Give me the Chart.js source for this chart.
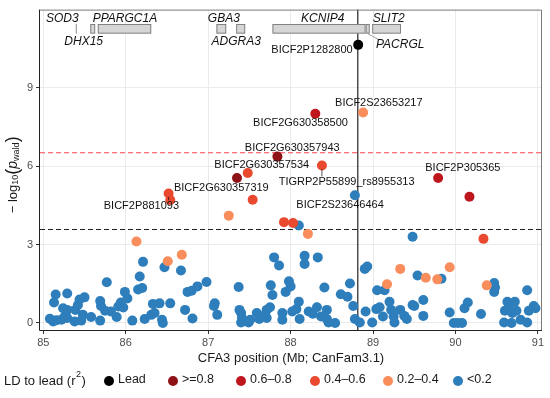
<!DOCTYPE html>
<html>
<head>
<meta charset="utf-8">
<script src="https://cdn.jsdelivr.net/npm/chart.js@4/dist/chart.umd.min.js"></script>
<style>
  html, body { margin: 0; padding: 0; background: #fff; }
  #wrap { width: 550px; height: 398px; position: relative; }
</style>
</head>
<body>
<div id="wrap"><canvas id="grafico"></canvas></div>
<script>
// axis ranges and ticks
const xTicks = [85, 86, 87, 88, 89, 90, 91];
const yTicks = [0, 3, 6, 9];
const xMin = 84.96, xMax = 91.05;
const yMin = -0.27, yMax = 12.0;

// thresholds
const sigLine = 6.52;
const suggLine = 3.58;
const leadPos = 88.815;

// lead SNP
const leadX = [88.82];
const leadY = [10.65];

// r2 >= 0.8
const ld8X = [87.84, 87.35];
const ld8Y = [6.37, 5.55];

// r2 0.6-0.8
const ld6X = [88.30, 89.79, 90.17];
const ld6Y = [8.01, 5.55, 4.83];

// r2 0.4-0.6
const ld4X = [87.48, 88.38, 87.54, 86.52, 86.54, 87.92, 88.03, 90.34];
const ld4Y = [5.74, 6.03, 4.72, 4.96, 4.71, 3.86, 3.83, 3.22];

// r2 0.2-0.4
const ld2X = [88.88, 87.25, 88.21, 86.13, 86.51, 86.68, 89.17, 89.33, 89.64, 89.78, 89.93, 90.38];
const ld2Y = [8.06, 4.11, 3.41, 3.12, 2.36, 2.61, 1.48, 2.07, 1.73, 1.67, 2.13, 1.44];

// r2 < 0.2
const ld0X = [
  88.78, 88.10, 89.48,
  85.08, 85.12, 85.16, 85.22, 85.26, 85.29, 85.15, 85.13, 85.29, 85.24, 85.29, 85.38, 85.39, 85.42,
  85.44, 85.50, 85.48, 85.46, 85.58, 85.69, 85.69, 85.70, 85.77, 85.75, 85.82, 85.89, 85.91, 85.94,
  85.97, 85.99, 86.02, 86.08, 86.15, 86.17, 86.20, 86.21, 86.23, 86.33, 86.31, 86.35, 86.41, 86.44,
  86.45, 86.47, 86.54, 86.67, 86.72, 86.81, 86.75, 86.80, 86.87, 86.98,
  87.08, 87.07, 87.11, 87.37, 87.38, 87.40, 87.40, 87.49, 87.59, 87.69, 87.71, 87.76, 87.78, 87.80,
  87.86, 87.41, 87.51, 87.62, 87.75, 87.71,
  87.90, 87.90, 87.94, 87.98, 88.00, 88.02, 88.07, 88.10, 88.11, 88.17, 88.17, 88.22, 88.27, 88.32,
  88.33, 88.37, 88.41, 88.44, 88.44, 88.46, 88.54, 88.61, 88.69, 88.72, 88.76, 88.78, 88.84,
  88.90, 88.93, 89.05, 89.14, 88.91, 88.99, 89.04, 89.08, 89.12, 89.20, 89.22, 89.25, 89.26, 89.33,
  89.38, 89.41, 89.48, 89.50, 89.54, 89.61, 89.61, 89.83, 89.93, 89.98, 90.03, 90.08, 90.11, 90.15,
  90.31, 90.47, 90.48, 90.47, 90.63, 90.60, 90.65, 90.72, 90.69, 90.74, 90.59, 90.68, 90.79, 90.87,
  90.89, 90.95, 90.97, 90.87
];
const ld0Y = [
  4.89, 3.73, 3.30,
  0.16, 0.06, 0.10, 0.12, 0.25, 0.19, 1.09, 0.78, 1.13, 0.56, 0.50, 0.06, 0.50, 0.69,
  0.90, 0.98, 0.31, 0.09, 0.23, 0.09, 0.84, 0.65, 1.56, 0.47, 0.44, 0.23, 0.63, 0.78,
  0.59, 1.19, 0.94, 0.09, 1.28, 1.78, 1.34, 2.34, 0.15, 0.73, 0.31, 0.38, 0.75, 0.12,
  0.00, 2.13, 0.75, 2.01, 0.50, 0.17, 1.19, 1.23, 1.40, 1.57,
  0.75, 0.65, 0.31, 1.38, 0.50, 0.38, 0.02, 0.02, 0.38, 0.31, 0.50, 1.44, 1.07, 2.51,
  2.20, 0.19, 0.12, 0.15, 0.60, 0.19,
  0.38, 0.12, 1.19, 1.60, 1.40, 0.44, 0.53, 0.81, 0.15, 2.57, 2.26, 0.44, 0.35, 0.60,
  2.51, 0.25, 1.36, 0.50, 0.15, 0.02, 0.00, 1.10, 1.00, 1.51, 0.65, 0.15, 0.02,
  2.07, 2.16, 1.25, 1.25, 0.44, 0.02, 0.53, 0.60, 0.25, 0.81, 0.50, 0.25, 0.02, 0.50,
  0.27, 0.15, 0.69, 0.65, 1.82, 0.88, 0.27, 1.69, 0.40, 0.00, 0.00, 0.00, 0.56, 0.78,
  0.34, 1.53, 1.36, 1.19, 0.81, 0.47, 0.56, 0.81, 0.38, 0.47, 0.02, 0.00, 0.12, 1.25,
  0.47, 0.65, 0.56, 0.02
];

// labelled SNPs: marker position and label centre
const snpNames = ["BICF2P1282800", "BICF2S23653217", "BICF2G630358500", "BICF2G630357943", "BICF2G630357534",
  "TIGRP2P55899_rs8955313", "BICF2G630357319", "BICF2P881093", "BICF2P305365", "BICF2S23646464"];
const snpX = [88.82, 88.88, 88.30, 87.84, 87.48, 88.38, 87.35, 86.52, 89.79, 88.78];
const snpY = [10.65, 8.06, 8.01, 6.37, 5.74, 6.03, 5.55, 4.96, 5.55, 4.89];
const snpLabelX = [88.26, 89.07, 88.12, 88.02, 87.65, 88.68, 87.16, 86.19, 90.09, 88.60];
const snpLabelY = [10.46, 8.44, 7.66, 6.72, 6.05, 5.40, 5.17, 4.49, 5.92, 4.52];

// gene track
const geneNames = ["SOD3", "DHX15", "PPARGC1A", "GBA3", "ADGRA3", "KCNIP4", "PACRGL", "SLIT2"];
const geneStart = [85.40, 85.57, 85.66, 87.10, 87.34, 87.78, 88.91, 88.99];
const geneEnd = [85.40, 85.63, 86.31, 87.22, 87.45, 88.91, 88.96, 89.34];
const geneLabelX = [85.23, 85.49, 85.99, 87.19, 87.34, 88.39, 89.33, 89.19];
const geneLabelY = [11.65, 10.78, 11.65, 11.65, 10.78, 11.65, 10.67, 11.65];

const legendLabels = ["Lead", ">=0.8", "0.6\u20130.8", "0.4\u20130.6", "0.2\u20130.4", "<0.2"];
const cores = ["#000000", "#8e1216", "#bf161e", "#e8492f", "#f98d5c", "#2e7ebc"];

const FONTE = "'Liberation Sans', Arial, sans-serif";

function pares(xs, ys) {
  return xs.map((x, i) => ({ x: x, y: ys[i] }));
}

const extras = {
  id: "extras",
  beforeDatasetsDraw(chart) {
    const { ctx, chartArea: a, scales: { x, y } } = chart;
    ctx.save();
    // threshold lines
    ctx.lineWidth = 1.1;
    ctx.setLineDash([5, 3]);
    ctx.strokeStyle = "#f8454d";
    let py = y.getPixelForValue(sigLine);
    ctx.beginPath(); ctx.moveTo(a.left, py); ctx.lineTo(a.right, py); ctx.stroke();
    ctx.strokeStyle = "#222";
    py = y.getPixelForValue(suggLine);
    ctx.beginPath(); ctx.moveTo(a.left, py); ctx.lineTo(a.right, py); ctx.stroke();
    ctx.setLineDash([]);
    // lead position line
    ctx.strokeStyle = "#333";
    ctx.lineWidth = 1.3;
    const px = x.getPixelForValue(leadPos);
    ctx.beginPath(); ctx.moveTo(px, a.top); ctx.lineTo(px, a.bottom); ctx.stroke();
    // gene boxes
    const gTop = y.getPixelForValue(11.45), gBot = y.getPixelForValue(11.08);
    geneNames.forEach((g, i) => {
      const x0 = x.getPixelForValue(geneStart[i]), x1 = x.getPixelForValue(geneEnd[i]);
      ctx.strokeStyle = "#6e6e6e";
      ctx.lineWidth = 0.8;
      if (x1 - x0 < 1) {
        ctx.beginPath(); ctx.moveTo(x0, gTop); ctx.lineTo(x0, gBot); ctx.stroke();
      } else {
        ctx.fillStyle = "#d6d6d6";
        ctx.fillRect(x0, gTop, x1 - x0, gBot - gTop);
        ctx.strokeRect(x0 + 0.5, gTop + 0.5, x1 - x0 - 1, gBot - gTop - 1);
      }
    });
    // PACRGL pointer
    const pi = geneNames.indexOf("PACRGL");
    ctx.strokeStyle = "#8a8a8a";
    ctx.lineWidth = 0.8;
    ctx.beginPath();
    ctx.moveTo((x.getPixelForValue(geneStart[pi]) + x.getPixelForValue(geneEnd[pi])) / 2, gBot);
    ctx.lineTo(x.getPixelForValue(geneLabelX[pi]) - 22, y.getPixelForValue(geneLabelY[pi]) - 5);
    ctx.stroke();
    ctx.fillStyle = "#111";
    ctx.font = "italic 12px " + FONTE;
    ctx.textAlign = "center";
    ctx.textBaseline = "middle";
    geneNames.forEach((g, i) => {
      ctx.fillText(g, x.getPixelForValue(geneLabelX[i]), y.getPixelForValue(geneLabelY[i]));
    });
    ctx.restore();
  },
  afterDatasetsDraw(chart) {
    const { ctx, scales: { x, y } } = chart;
    ctx.save();
    ctx.font = "11px " + FONTE;
    ctx.textAlign = "center";
    ctx.textBaseline = "middle";
    snpNames.forEach((nome, i) => {
      const lx = x.getPixelForValue(snpLabelX[i]), ly = y.getPixelForValue(snpLabelY[i]);
      const mx = x.getPixelForValue(snpX[i]), my = y.getPixelForValue(snpY[i]);
      const w = ctx.measureText(nome).width;
      const h = 11;
      // closest point of label box to the marker
      const bx = Math.max(lx - w / 2, Math.min(mx, lx + w / 2));
      const by = Math.max(ly - h / 2, Math.min(my, ly + h / 2));
      const dx = mx - bx, dy = my - by;
      const d = Math.sqrt(dx * dx + dy * dy);
      if (d > 6) {
        const ex = mx - dx / d * 3.5, ey = my - dy / d * 3.5;
        ctx.strokeStyle = "#111";
        ctx.lineWidth = 0.7;
        ctx.beginPath(); ctx.moveTo(bx, by); ctx.lineTo(ex, ey); ctx.stroke();
      }
      ctx.fillStyle = "#111";
      ctx.fillText(nome, lx, ly);
    });
    ctx.restore();
  },
  afterDraw(chart) {
    const { ctx, chartArea: a } = chart;
    ctx.save();
    // panel border
    ctx.strokeStyle = "#7a7a7a";
    ctx.lineWidth = 1;
    ctx.beginPath();
    ctx.moveTo(a.left, a.top + 0.5); ctx.lineTo(a.right - 0.5, a.top + 0.5); ctx.lineTo(a.right - 0.5, a.bottom);
    ctx.stroke();
    ctx.strokeStyle = "#222";
    ctx.beginPath();
    ctx.moveTo(a.left - 0.5, a.top); ctx.lineTo(a.left - 0.5, a.bottom + 0.5); ctx.lineTo(a.right, a.bottom + 0.5);
    ctx.stroke();

    // x title
    ctx.fillStyle = "#1a1a1a";
    ctx.font = "13px " + FONTE;
    ctx.textAlign = "center";
    ctx.textBaseline = "middle";
    ctx.fillText("CFA3 position (Mb; CanFam3.1)", (a.left + a.right) / 2, 358);

    // y title: -log10(p_wald)
    const partes = [
      { t: "\u2212 log", f: "13px " + FONTE, dy: 0 },
      { t: "10", f: "9px " + FONTE, dy: 3 },
      { t: "(", f: "18px " + FONTE, dy: 0 },
      { t: "p", f: "italic 14px " + FONTE, dy: 0 },
      { t: "wald", f: "9px " + FONTE, dy: 4 },
      { t: ")", f: "18px " + FONTE, dy: 0 }
    ];
    let total = 0;
    partes.forEach(p => { ctx.font = p.f; p.w = ctx.measureText(p.t).width; total += p.w; });
    ctx.translate(13, (a.top + a.bottom) / 2 + 5);
    ctx.rotate(-Math.PI / 2);
    ctx.textAlign = "left";
    let cx = -total / 2;
    partes.forEach(p => { ctx.font = p.f; ctx.fillText(p.t, cx, p.dy); cx += p.w; });
    ctx.setTransform(1, 0, 0, 1, 0, 0);

    // legend
    const ly = 381;
    ctx.font = "13px " + FONTE;
    ctx.textAlign = "left";
    ctx.fillText("LD to lead (r", 4, ly);
    let w = ctx.measureText("LD to lead (r").width;
    ctx.font = "9px " + FONTE;
    ctx.fillText("2", 4 + w + 0.5, ly - 6);
    const w2 = ctx.measureText("2").width;
    ctx.font = "13px " + FONTE;
    ctx.fillText(")", 4 + w + w2 + 1, ly);
    const dotX = [109, 173, 241, 315, 388, 458];
    ctx.font = "12.5px " + FONTE;
    legendLabels.forEach((lab, i) => {
      ctx.fillStyle = cores[i];
      ctx.beginPath(); ctx.arc(dotX[i], ly, 5, 0, Math.PI * 2); ctx.fill();
      ctx.fillStyle = "#1a1a1a";
      ctx.fillText(lab, dotX[i] + 9, ly - 1);
    });
    ctx.restore();
  }
};

const series = [
  { x: leadX, y: leadY },
  { x: ld8X, y: ld8Y },
  { x: ld6X, y: ld6Y },
  { x: ld4X, y: ld4Y },
  { x: ld2X, y: ld2Y },
  { x: ld0X, y: ld0Y }
];

const ctx = document.getElementById("grafico").getContext("2d");
new Chart(ctx, {
  type: "scatter",
  data: {
    datasets: series.map((s, i) => ({
      label: legendLabels[i],
      data: pares(s.x, s.y),
      backgroundColor: cores[i],
      borderWidth: 0,
      pointRadius: 5,
      pointHoverRadius: 5
    }))
  },
  options: {
    responsive: true,
    maintainAspectRatio: false,
    animation: false,
    events: [],
    layout: { padding: { left: 0, right: 8, top: 5, bottom: 0 } },
    plugins: { legend: { display: false }, tooltip: { enabled: false } },
    scales: {
      x: {
        type: "linear",
        min: xMin,
        max: xMax,
        afterBuildTicks: (s) => { s.ticks = xTicks.map(v => ({ value: v })); },
        afterFit: (s) => { s.height = 68; },
        ticks: { color: "#4d4d4d", font: { size: 11, family: FONTE }, padding: 2, maxRotation: 0 },
        grid: { color: "#ebebeb", tickColor: "#333", tickLength: 4, lineWidth: 1 },
        border: { display: false }
      },
      y: {
        min: yMin,
        max: yMax,
        afterBuildTicks: (s) => { s.ticks = yTicks.map(v => ({ value: v })); },
        afterFit: (s) => { s.width = 40; },
        ticks: { color: "#4d4d4d", font: { size: 11, family: FONTE }, padding: 3 },
        grid: { color: "#ebebeb", tickColor: "#333", tickLength: 4, lineWidth: 1 },
        border: { display: false }
      }
    }
  },
  plugins: [extras]
});
</script>
</body>
</html>
